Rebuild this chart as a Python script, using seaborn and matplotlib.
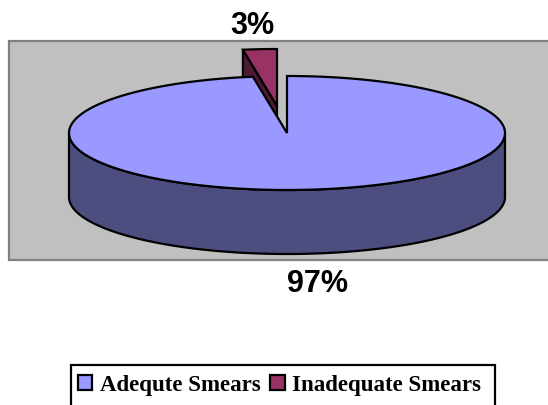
#!/usr/bin/env python3
"""3D-style pie of smear adequacy, drawn on a pixel-sized axes."""
import matplotlib

matplotlib.use("Agg")
import matplotlib.pyplot as plt
import numpy as np
import seaborn as sns
from matplotlib.patches import Patch, Polygon, Rectangle

categories = ["Adequte Smears", "Inadequate Smears"]
shares = [97.5, 2.5]  # wedge sizes
pct_labels = ["97%", "3%"]

TOP_COLORS = sns.color_palette(["#9999FF", "#993366"])
SIDE_COLORS = sns.color_palette(["#4D4D80", "#4D1A33"])
WALL = "#C0C0C0"
CX, CY, RX, RY, DEPTH = 287, 134, 218, 57, 64
EXPLODE = (-10, -27)


def rim(start, end, offset=(0, 0), n=200):
    """Ellipse points going clockwise from the top, angles in degrees."""
    t = np.radians(np.linspace(start, end, n))
    return np.column_stack(
        [CX + offset[0] + RX * np.sin(t), CY + offset[1] - RY * np.cos(t)]
    )


def side_wall(arc):
    return np.vstack([arc, (arc + [0, DEPTH])[::-1]])


sns.set_theme(style="white")
fig = plt.figure(figsize=(5.48, 4.06), dpi=100)
ax = fig.add_axes([0, 0, 1, 1])
ax.set_xlim(0, 548)
ax.set_ylim(406, 0)
ax.axis("off")

ax.add_patch(Rectangle((9, 42), 560, 219, fc=WALL, ec="#808080", lw=1.6))

end_big = 360 * shares[0] / sum(shares)
ink = dict(ec="black", lw=1.6, joinstyle="miter")

# exploded small slice, sits behind the big one
small = rim(end_big, 360, EXPLODE, 30)
tip = np.array([[CX + EXPLODE[0], CY + EXPLODE[1]]])
start_pt = small[:1]
ax.add_patch(
    Polygon(
        np.vstack([start_pt, start_pt + [0, DEPTH], tip + [0, DEPTH], tip]),
        fc=SIDE_COLORS[1],
        **ink,
    )
)
ax.add_patch(Polygon(np.vstack([small, tip]), fc=TOP_COLORS[1], **ink))

# big slice: front wall first, then the top face
front = rim(90, 270)
ax.add_patch(Polygon(side_wall(front), fc=SIDE_COLORS[0], **ink))
big = rim(0, end_big, n=400)
ax.add_patch(Polygon(np.vstack([[[CX, CY]], big]), fc=TOP_COLORS[0], **ink))

ax.text(252, 26, pct_labels[1], ha="center", va="center", fontsize=22,
        fontweight="bold", family="Liberation Sans", color="black")
ax.text(318, 284, pct_labels[0], ha="center", va="center", fontsize=22,
        fontweight="bold", family="Liberation Sans", color="black")

# legend frame runs off the bottom of the image in the original
ax.add_patch(Rectangle((71, 366), 424, 60, fc="white", ec="black", lw=1.6))
handles = [
    Patch(fc=TOP_COLORS[i], ec="black", lw=1.6, label=categories[i])
    for i in range(len(categories))
]
ax.legend(
    handles=handles,
    ncols=2,
    frameon=False,
    loc="center left",
    bbox_to_anchor=(78 / 548, 1 - 386 / 406),
    borderpad=0,
    borderaxespad=0,
    handlelength=0.62,
    handleheight=0.62,
    handletextpad=0.32,
    columnspacing=0.45,
    prop={"family": "Liberation Serif", "weight": "bold", "size": 16.5},
    labelcolor="black",
)

plt.savefig("out.png", dpi=100)
